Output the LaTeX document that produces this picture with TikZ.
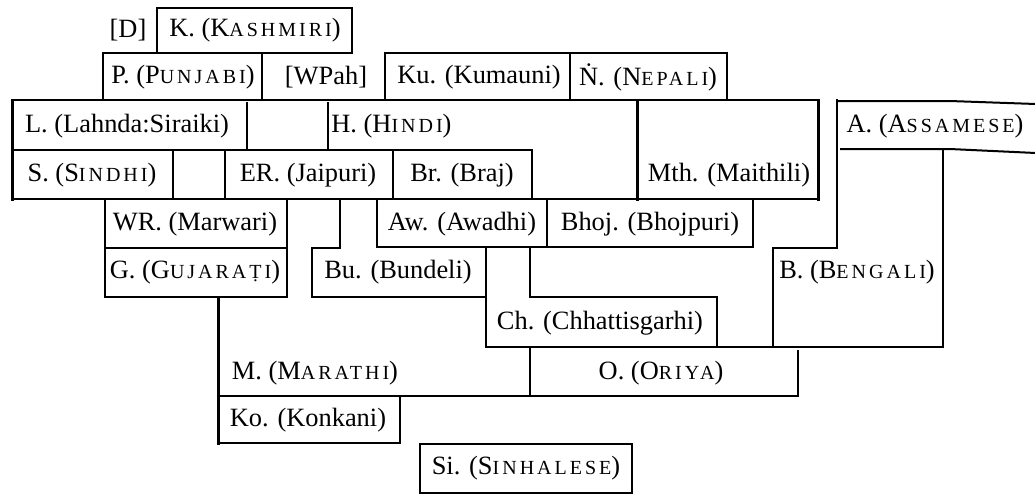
\documentclass[tikz,border=0pt]{standalone}
\usepackage{fontspec}
\setmainfont{Liberation Serif}
% letter-spaced small capitals built from reduced uppercase
\newcommand\smc[1]{{\fontsize{10}{12}\selectfont\addfontfeatures{LetterSpace=15}#1}}
\begin{document}
\begin{tikzpicture}[x=0.5pt,y=-0.5pt,
  lbl/.style={inner sep=0pt, font=\fontsize{13.2}{15}\selectfont},
  edge/.style={line width=1pt, line cap=rect},
  heavy/.style={line width=1.5pt, line cap=rect}]
\useasboundingbox (0,0) rectangle (1035,495);

% language labels
\node[lbl] (d)    at (128,30)  {[D]};
\node[lbl] (k)    at (255,30)  {K. (K\smc{ASHMIRI})};
\node[lbl] (p)    at (183,77)  {P. (P\smc{UNJABI})};
\node[lbl] (wpah) at (326,77)  {[WPah]};
\node[lbl] (ku)   at (479,77)  {Ku. (Kumauni)};
\node[lbl] (n)    at (648,77)  {\.{N}. (N\smc{EPALI})};
\node[lbl] (l)    at (127,126) {L. (Lahnda:Siraiki)};
\node[lbl,anchor=west] (h) at (331,126) {H. (H\smc{INDI})};
\node[lbl] (a)    at (935,126) {A. (A\smc{SSAMESE})};
\node[lbl] (s)    at (92,175)  {S. (S\smc{INDHI})};
\node[lbl] (er)   at (308,175) {ER. (Jaipuri)};
\node[lbl] (br)   at (462,175) {Br. (Braj)};
\node[lbl] (mth)  at (729,175) {Mth. (Maithili)};
\node[lbl] (wr)   at (195,224) {WR. (Marwari)};
\node[lbl] (aw)   at (462,224) {Aw. (Awadhi)};
\node[lbl] (bhoj) at (650,224) {Bhoj. (Bhojpuri)};
\node[lbl] (g)    at (195,272) {G. (G\smc{UJARA\d{T}I})};
\node[lbl] (bu)   at (398,272) {Bu. (Bundeli)};
\node[lbl] (b)    at (857,272) {B. (B\smc{ENGALI})};
\node[lbl] (ch)   at (600,323) {Ch. (Chhattisgarhi)};
\node[lbl] (m)    at (315,373) {M. (M\smc{ARATHI})};
\node[lbl] (o)    at (661,373) {O. (O\smc{RIYA})};
\node[lbl] (ko)   at (308,420) {Ko. (Konkani)};
\node[lbl] (si)   at (526,468) {Si. (S\smc{INHALESE})};

% top tiers
\draw[edge] (157,53) |- (352,8) -- (352,53);
\draw[edge] (103,100) |- (352,53);
\draw[edge] (262,53) -- (262,100);
\draw[edge] (385,100) |- (727,53) -- (727,100);
\draw[edge] (570,53) -- (570,100);

% Lahnda / Hindi / Maithili tier
\draw[heavy] (12,100) -- (12,199);
\draw[edge] (12,100) -- (818,100);
\draw[heavy] (637,100) -- (637,199);
\draw[heavy] (818,100) -- (818,199);
\draw[edge] (247,103) -- (247,150);
\draw[edge] (328,103) -- (328,150);
\draw[edge] (12,150) -- (532,150) -- (532,199);

% Sindhi / Jaipuri / Braj tier
\draw[edge] (173,150) -- (173,199);
\draw[edge] (225,150) -- (225,199);
\draw[edge] (393,150) -- (393,199);
\draw[edge] (12,199) -- (818,199);

% Marwari and Gujarati
\draw[edge] (105,199) |- (287,297) -- (287,199);
\draw[edge] (105,248) -- (287,248);

% Bundeli
\draw[edge] (340,199) |- (312,248) |- (486,297);

% Awadhi and Bhojpuri
\draw[edge] (377,199) |- (753,247) -- (753,199);
\draw[edge] (547,199) -- (547,247);

% Chhattisgarhi and Bengali
\draw[edge] (486,247) |- (943,347) -- (943,149);
\draw[edge] (530,247) |- (717,297) -- (717,347);
\draw[edge] (837,100) -- (837,248) -| (773,347);

% Assamese band, running off the right edge with a slight droop
\draw[line width=1pt] (837,101) -- (950,101) -- (1036,104);
\draw[line width=1pt] (840,149) -- (950,149) -- (1036,153);

% Marathi, Oriya, Konkani
\draw[heavy] (218,297) -- (218,443);
\draw[edge] (218,396) -- (798,396) -- (798,351);
\draw[edge] (530,347) -- (530,396);
\draw[edge] (218,443) -- (400,443) -- (400,396);

% Sinhalese
\draw[edge] (420,444) rectangle (632,493);
\end{tikzpicture}
\end{document}
